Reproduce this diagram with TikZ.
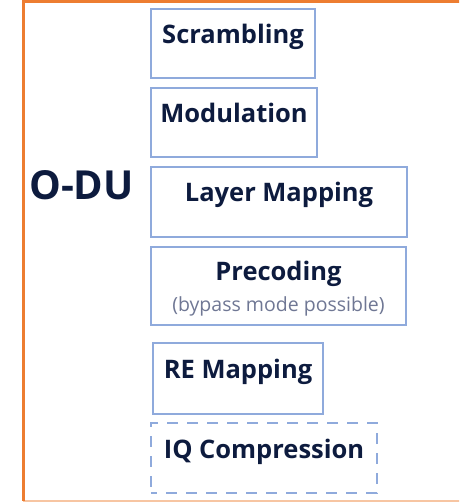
\documentclass[tikz,border=0pt]{standalone}
\usepackage{fontspec}
\setmainfont{Open Sans}
\usetikzlibrary{positioning}

\definecolor{frameOrange}{HTML}{ED7D31}
\definecolor{boxBlue}{HTML}{8FAADC}
\definecolor{textNavy}{HTML}{0D1B3E}
\definecolor{noteGrey}{HTML}{6F7794}

\begin{document}
\begin{tikzpicture}
    [
        x=1pt, y=-1pt,
        Block/.style={rectangle,draw=boxBlue,line width=2.6pt,inner sep=0pt,text=textNavy,font=\fontsize{25.5}{30}\selectfont\bfseries,text height=35pt,align=center},
        DashedBlock/.style={Block,dash pattern=on 11pt off 9pt,dash phase=5pt},
        Title/.style={text=textNavy,font=\fontsize{40}{44}\selectfont\bfseries,inner sep=0pt}
    ]
    \useasboundingbox (0,0) rectangle (459,502);
    \clip (0,0) rectangle (459,502);
    % outer frame
    \draw[frameOrange!45,line width=1.5pt] (23,501) -- (470,501);
    \draw[frameOrange,line width=3pt] (470,2) -- (23,2) -- (23,501);

    \node[Block,minimum width=164pt,text depth=34pt] (scrambling) at (233,43.5) {Scrambling};
    \node[Block,minimum width=166pt,text depth=34pt] (modulation) at (234,122.5) {Modulation};
    \node[Block,minimum width=256pt,text depth=35pt] (layerMapping) at (279,202) {Layer Mapping};
    \node[Block,minimum width=255pt,text height=64pt,text depth=14pt] (precoding) at (278.5,286) {Precoding\\[1pt]{\fontsize{19.5}{22}\selectfont\mdseries\color{noteGrey}(bypass mode possible)}};
    \node[Block,minimum width=170pt,text depth=36pt] (reMapping) at (238,378.5) {RE Mapping};
    \node[DashedBlock,minimum width=226pt,text depth=35pt] (iqCompression) at (264,458) {IQ Compression};

    \node[Title] (oDU) at (81.5,185) {O-DU};
\end{tikzpicture}
\end{document}
